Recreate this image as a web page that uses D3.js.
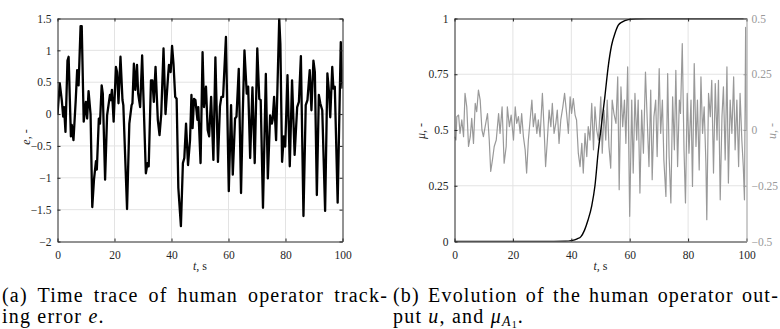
<!DOCTYPE html>
<html>
<head>
<meta charset="utf-8">
<script src="https://cdn.jsdelivr.net/npm/d3@7"></script>
<style>
  html, body { margin: 0; padding: 0; background: #fff; }
  svg { display: block; }
</style>
</head>
<body>
<svg id="fig" width="780" height="329"></svg>
<script>
// ---- Tracking error e(t) ----
const errTime = [0,0.8,1.5,2,2.3,2.8,3.5,3.9,4.7,5.0,
  5.6,6.4,6.9,7.4,8.1,8.5,9.2,9.95,10.4,10.9,
  11.6,12.2,12.8,13.5,13.8,14.5,14.9,15.5,15.9,16.7,
  17.4,18.4,18.7,19.1,19.7,20.5,20.9,21.4,22.1,22.8,
  23.1,24.4,25.2,26.0,26.3,26.8,27.3,27.9,28.3,29.0,
  29.7,31.0,31.6,32.0,32.8,33.3,33.8,34.4,35.2,35.8,
  36.4,37.2,37.9,38.8,39.1,39.7,40.2,40.7,41.3,41.8,
  42.4,43.3,44.0,44.5,45.1,45.8,46.5,47.0,47.4,47.9,
  48.4,49.1,49.4,50.2,50.9,51.4,52.1,52.7,53.2,53.9,
  54.7,55.4,56.3,57.0,57.5,58.1,59.1,60.1,60.9,61.5,
  62.3,62.8,63.6,64.4,65.0,65.6,66.4,66.9,67.6,68.4,
  69.2,70.1,70.8,71.3,72.1,73.1,73.8,74.6,75.2,75.5,
  76.0,76.7,77.8,78.2,78.8,79.4,79.9,80.7,81.5,82.3,
  83.2,84.1,84.7,85.4,86.3,87.1,87.7,88.5,89.1,89.8,
  90.3,91.0,91.7,92.2,92.9,93.9,94.7,95.3,95.7,96.4,
  96.8,97.3,98.3,99.4,100];
const errValue = [0,0.48,0.22,-0.04,0.11,-0.28,0.84,0.9,-0.35,-0.17,
  -0.41,0.22,0.69,0.45,1.38,1.38,-0.12,0.19,-0.07,0.36,
  0.0,-1.46,-1.03,-0.74,-0.87,-0.07,-0.15,0.45,0.32,-1.03,
  -0.02,0.3,0.22,0.38,-0.12,0.74,0.66,0.17,0.9,0.22,
  0.14,-1.49,-0.15,0.14,0.17,0.79,0.38,0.77,0.32,0.11,
  0.92,-0.93,-0.77,-0.82,0.53,0.53,0.19,0.74,-0.09,-0.33,
  0.0,1.03,0.0,0.6,0.77,0.66,1.07,0.79,0.27,0.24,
  -1.16,-1.76,-0.77,-0.69,-0.15,-0.8,-0.41,0.3,-0.22,0.24,
  0.22,-0.09,0.11,-0.77,0.97,0.11,0.43,-0.25,-0.35,0.27,
  -0.72,0.89,-0.75,0.12,0.27,0.27,1.21,-1.21,0.14,-0.95,
  -0.07,-0.04,0.71,-1.24,0.0,1.0,0.32,0.43,-0.69,0.42,
  -0.77,1.03,0.24,0.22,-1.47,0.63,-1.01,-0.02,-0.15,-0.09,
  0.27,-0.41,1.5,1.1,-0.75,-0.35,-0.51,0.61,-0.82,0.53,
  -0.64,0.11,0.19,0.91,-1.6,0.14,0.22,0.69,0.06,0.84,
  0.66,-1.27,0.3,0.17,0.06,-1.52,0.64,0.32,-0.05,0.74,
  0.4,0.43,-1.39,1.13,0.4];

// ---- Membership mu_A1(t) ----
const muTime  = [0,30,38,40,42,43.3,44.5,45.7,47,48.1,49.2,50.3,51.5,52.6,53.8,55,56.1,57.5,59.5,62,66,100];
const muValue = [0,0,0.001,0.004,0.012,0.022,0.05,0.095,0.16,0.25,0.4,0.52,0.65,0.78,0.88,0.935,0.97,0.985,0.995,0.999,1,1];

// ---- Operator output u(t) ----
const uTime = [0,0.5,0.8,1.4,1.9,2.5,3.1,3.6,4.2,4.8,5.4,5.9,6.5,7.1,7.6,8.2,8.8,9.4,9.9,10.5,
  11.3,11.9,12.4,13.0,13.6,14.3,15.1,15.6,16.3,17.0,17.7,18.1,18.8,19.4,20.2,20.8,21.3,21.9,22.5,23.0,
  23.6,24.2,24.7,25.3,25.9,26.5,27.0,27.6,28.2,28.7,29.3,30.1,30.7,31.2,31.8,32.4,33.0,33.5,34.1,34.7,
  35.2,35.8,36.4,37.1,37.7,38.4,39.0,39.6,40.1,40.7,41.3,41.8,42.4,43.0,43.6,44.1,44.7,45.3,45.8,46.4,
  47.0,47.6,48.1,48.7,49.3,50.1,50.6,51.2,51.8,52.3,52.9,53.5,54.0,54.6,55.3,55.9,56.4,57.0,57.6,58.2,
  58.7,59.3,60.0,60.7,61.2,61.8,62.4,62.9,63.5,64.1,64.7,65.4,66.0,66.6,67.2,67.7,68.3,68.9,69.4,70.1,
  70.6,71.2,71.7,72.4,73.0,73.5,74.1,74.7,75.3,75.8,76.4,77.0,77.4,78.0,78.6,79.1,79.7,80.3,81.0,81.5,
  82.1,82.7,83.2,83.8,84.4,84.95,85.5,86.1,86.4,87.0,87.6,88.1,88.7,89.3,89.9,90.4,91.0,91.6,92.1,92.7,
  93.3,93.8,94.4,95.0,95.6,96.1,96.7,97.3,97.8,98.4,98.9,99.3,99.7,100];
const uValue = [-0.03,-0.045,0.06,0.067,-0.015,0.045,-0.03,0.164,0.104,-0.074,-0.03,0.052,-0.06,0.119,0.082,0.179,0.134,0,-0.03,0.015,
  0.074,-0.045,-0.186,-0.134,-0.074,-0.045,0.074,-0.015,0.104,-0.149,-0.074,0.104,0.015,0.067,-0.045,0.104,0.03,0.06,-0.015,0.074,
  -0.03,-0.089,-0.193,-0.045,0.045,0.134,0.015,0.074,-0.015,0.045,-0.03,0.164,0,-0.164,-0.045,0.089,0.015,0.119,-0.015,0.03,
  0.089,-0.06,0.045,0.104,0.164,0.074,-0.015,0.149,0.074,0.141,0.067,0.045,-0.104,-0.164,-0.06,-0.193,-0.015,-0.119,0.015,-0.045,
  0.119,-0.089,0.104,0,-0.045,0.149,-0.104,0.089,-0.045,0.134,-0.074,-0.171,0.134,0.074,0.03,0.238,-0.268,0.193,0.015,0.134,
  -0.06,0.283,-0.387,0.134,-0.193,0.164,-0.045,0.134,-0.283,0.089,-0.104,0.26,0.045,-0.164,0.179,-0.223,0.06,0.134,-0.119,0.275,
  -0.015,0.134,-0.134,-0.298,0.253,-0.119,-0.327,0.149,-0.089,0.268,-0.164,0.134,0.074,0.387,-0.089,-0.327,0.164,-0.104,0.134,-0.253,
  0.298,-0.074,0.134,-0.179,0.238,-0.015,0.104,-0.149,-0.402,0.164,0.06,0.223,-0.193,0.208,-0.045,0.223,-0.313,0.06,0.193,-0.134,
  0.283,-0.238,0.134,-0.015,0.238,-0.089,0.134,-0.164,0.164,-0.045,-0.164,-0.313,0.46,0.0];

// ---- Ticks ----
const timeTicks = [0, 20, 40, 60, 80, 100];
const errTicks = [-2, -1.5, -1, -0.5, 0, 0.5, 1, 1.5];
const errTickLabels = ["\u22122", "\u22121.5", "\u22121", "\u22120.5", "0", "0.5", "1", "1.5"];
const muTicks = [0, 0.25, 0.5, 0.75, 1];
const muTickLabels = ["0", "0.25", "0.5", "0.75", "1"];
const uTicks = [-0.5, -0.25, 0, 0.25, 0.5];
const uTickLabels = ["\u22120.5", "\u22120.25", "0", "0.25", "0.5"];

const GRAY = "#999999";
const AXIS = "#262626";
const GRID = "#e3e3e3";
const TICK_FONT = 11.5;

// Pick the first serif face that is actually installed (canvas width probe).
function faceInstalled(name) {
  const ctx = document.createElement("canvas").getContext("2d");
  const probe = "mmmmmmmmmmlli1WQ@#ffi";
  return ["monospace", "sans-serif"].some(base => {
    ctx.font = `72px ${base}`;
    const w0 = ctx.measureText(probe).width;
    ctx.font = `72px "${name}", ${base}`;
    return Math.abs(ctx.measureText(probe).width - w0) > 0.5;
  });
}
const serifFace = ["Liberation Serif", "DejaVu Serif", "Noto Serif", "Tinos", "Times New Roman", "FreeSerif", "Nimbus Roman"]
  .find(faceInstalled);
const SERIF = serifFace ? `"${serifFace}", serif` : "serif";

const svg = d3.select("#fig").style("font-family", SERIF);
svg.append("rect").attr("width", 780).attr("height", 329).attr("fill", "#fff");

function labelFrom(ticks, labels) {
  return d => labels[ticks.indexOf(d)];
}

function styleAxis(g, color, showText) {
  g.attr("font-family", null).attr("font-size", TICK_FONT);
  g.select(".domain").attr("stroke", color).attr("stroke-width", 1);
  g.selectAll(".tick line").attr("stroke", color).attr("stroke-width", 1);
  g.selectAll(".tick text")
    .attr("fill", color)
    .style("display", showText ? null : "none");
}

function drawPanel(opts) {
  const { x, yL, left, right, top, bottom, id } = opts;
  const g = svg.append("g");

  g.append("clipPath").attr("id", id)
    .append("rect").attr("x", left).attr("y", top)
    .attr("width", right - left).attr("height", bottom - top);

  // grid
  const grid = g.append("g").attr("stroke", GRID).attr("stroke-width", 1);
  timeTicks.filter(t => t > 0 && t < 100).forEach(t => {
    grid.append("line").attr("x1", x(t)).attr("x2", x(t)).attr("y1", top).attr("y2", bottom);
  });
  opts.gridTicks.forEach(v => {
    grid.append("line").attr("x1", left).attr("x2", right).attr("y1", yL(v)).attr("y2", yL(v));
  });

  return g;
}

// ================= Panel (a) =================
const A = { left: 57.5, right: 342.5, top: 18.5, bottom: 241.5 };
const xA = d3.scaleLinear().domain([0, 100]).range([A.left, A.right]);
const yA = d3.scaleLinear().domain([-2, 1.5]).range([A.bottom, A.top]);

const gA = drawPanel({ x: xA, yL: yA, left: A.left, right: A.right, top: A.top, bottom: A.bottom,
  id: "clipA", gridTicks: errTicks.filter(v => v > -2 && v < 1.5) });

const errPts = errTime.map((t, i) => [t, errValue[i]]);
gA.append("path")
  .attr("clip-path", "url(#clipA)")
  .attr("d", d3.line().x(d => xA(d[0])).y(d => yA(d[1]))(errPts))
  .attr("fill", "none").attr("stroke", "#000").attr("stroke-width", 2.3)
  .attr("stroke-linejoin", "round");

gA.append("g").attr("transform", `translate(0,${A.bottom})`)
  .call(d3.axisBottom(xA).tickValues(timeTicks).tickSize(-3).tickSizeOuter(0).tickPadding(9))
  .call(s => styleAxis(s, AXIS, true));
gA.append("g").attr("transform", `translate(0,${A.top})`)
  .call(d3.axisTop(xA).tickValues(timeTicks).tickSize(-3).tickSizeOuter(0))
  .call(s => styleAxis(s, AXIS, false));
gA.append("g").attr("transform", `translate(${A.left},0)`)
  .call(d3.axisLeft(yA).tickValues(errTicks).tickSize(-3).tickSizeOuter(0).tickPadding(6)
    .tickFormat(labelFrom(errTicks, errTickLabels)))
  .call(s => styleAxis(s, AXIS, true));
gA.append("g").attr("transform", `translate(${A.right},0)`)
  .call(d3.axisRight(yA).tickValues(errTicks).tickSize(-3).tickSizeOuter(0))
  .call(s => styleAxis(s, AXIS, false));

// axis titles (a)
const tA = gA.append("text").attr("x", (A.left + A.right) / 2).attr("y", 270)
  .attr("text-anchor", "middle").attr("font-size", 12).attr("fill", AXIS);
tA.append("tspan").attr("font-style", "italic").text("t");
tA.append("tspan").text(", s");

const eLab = gA.append("text").attr("transform", "translate(30,137) rotate(-90)")
  .attr("text-anchor", "middle").attr("font-size", 12).attr("fill", AXIS);
eLab.append("tspan").attr("font-style", "italic").text("e");
eLab.append("tspan").text(", -");

// ================= Panel (b) =================
const B = { left: 454.5, right: 746.5, top: 18.5, bottom: 241.5 };
const xB = d3.scaleLinear().domain([0, 100]).range([B.left, B.right]);
const yMu = d3.scaleLinear().domain([0, 1]).range([B.bottom, B.top]);
const yU = d3.scaleLinear().domain([-0.5, 0.5]).range([B.bottom, B.top]);

const gB = drawPanel({ x: xB, yL: yMu, left: B.left, right: B.right, top: B.top, bottom: B.bottom,
  id: "clipB", gridTicks: muTicks.filter(v => v > 0 && v < 1) });

const uPts = uTime.map((t, i) => [t, uValue[i]]);
gB.append("path")
  .attr("clip-path", "url(#clipB)")
  .attr("d", d3.line().x(d => xB(d[0])).y(d => yU(d[1]))(uPts))
  .attr("fill", "none").attr("stroke", GRAY).attr("stroke-width", 1.2)
  .attr("stroke-linejoin", "round");

const muPts = muTime.map((t, i) => [t, muValue[i]]);
gB.append("path")
  .attr("clip-path", "url(#clipB)")
  .attr("d", d3.line().curve(d3.curveMonotoneX).x(d => xB(d[0])).y(d => yMu(d[1]))(muPts))
  .attr("fill", "none").attr("stroke", "#000").attr("stroke-width", 1.4);

gB.append("g").attr("transform", `translate(0,${B.bottom})`)
  .call(d3.axisBottom(xB).tickValues(timeTicks).tickSize(-3).tickSizeOuter(0).tickPadding(9))
  .call(s => styleAxis(s, AXIS, true));
gB.append("g").attr("transform", `translate(0,${B.top})`)
  .call(d3.axisTop(xB).tickValues(timeTicks).tickSize(-3).tickSizeOuter(0))
  .call(s => styleAxis(s, AXIS, false));
gB.append("g").attr("transform", `translate(${B.left},0)`)
  .call(d3.axisLeft(yMu).tickValues(muTicks).tickSize(-3).tickSizeOuter(0).tickPadding(6)
    .tickFormat(labelFrom(muTicks, muTickLabels)))
  .call(s => styleAxis(s, AXIS, true));
gB.append("g").attr("transform", `translate(${B.right},0)`)
  .call(d3.axisRight(yU).tickValues(uTicks).tickSize(-3).tickSizeOuter(0).tickPadding(5)
    .tickFormat(labelFrom(uTicks, uTickLabels)))
  .call(s => styleAxis(s, GRAY, true));

const tB = gB.append("text").attr("x", (B.left + B.right) / 2).attr("y", 270)
  .attr("text-anchor", "middle").attr("font-size", 12).attr("fill", AXIS);
tB.append("tspan").attr("font-style", "italic").text("t");
tB.append("tspan").text(", s");

const muLab = gB.append("text").attr("transform", "translate(425,131) rotate(-90)")
  .attr("text-anchor", "middle").attr("font-size", 12).attr("fill", AXIS);
muLab.append("tspan").attr("font-style", "italic").text("\u03bc");
muLab.append("tspan").text(", -");

const uLab = gB.append("text").attr("transform", "translate(776,131) rotate(-90)")
  .attr("text-anchor", "middle").attr("font-size", 12).attr("fill", GRAY);
uLab.append("tspan").attr("font-style", "italic").text("u");
uLab.append("tspan").text(", -");

// ================= Captions =================
const CAP_FONT = 20;
const CAP_TRACK = 1.2;

function capText(x, y) {
  return svg.append("text").attr("x", x).attr("y", y)
    .attr("font-size", CAP_FONT).attr("letter-spacing", CAP_TRACK).attr("fill", "#000");
}

// First caption line is justified: the spare width goes into word spacing.
function justifiedLine(str, x0, x1, y) {
  const t = capText(x0, y).text(str);
  const natural = t.node().getComputedTextLength();
  const spaces = (str.match(/ /g) || []).length;
  t.attr("word-spacing", Math.max(0, (x1 - x0 - natural) / spaces));
}

justifiedLine("(a) Time trace of human operator track-", 2, 388, 302);
justifiedLine("(b) Evolution of the human operator out-", 393, 779, 302);

const capA2 = capText(2, 323);
capA2.append("tspan").text("ing error ");
capA2.append("tspan").attr("font-style", "italic").text("e");
capA2.append("tspan").text(".");

const capB2 = capText(393, 323);
capB2.append("tspan").text("put ");
capB2.append("tspan").attr("font-style", "italic").text("u");
capB2.append("tspan").text(", and ");
capB2.append("tspan").attr("font-style", "italic").text("\u03bc");
capB2.append("tspan").attr("font-style", "italic").attr("font-size", 14).attr("dy", 3).text("A");
capB2.append("tspan").attr("font-size", 10).attr("dy", 1.5).text("1");
capB2.append("tspan").attr("dy", -4.5).text(".");
</script>
</body>
</html>
